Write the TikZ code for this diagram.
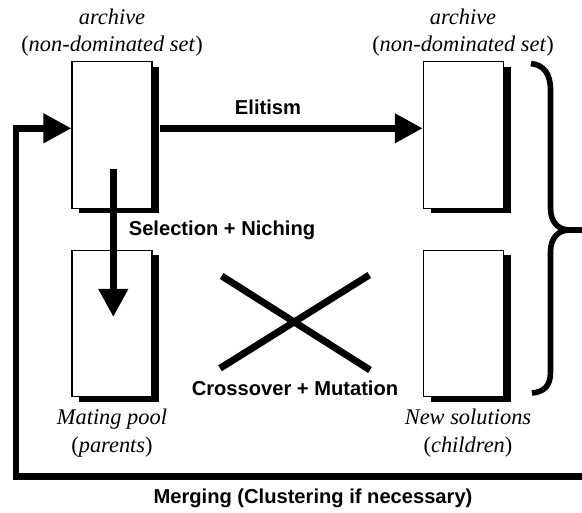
\documentclass[tikz,border=0pt]{standalone}
\usepackage{fontspec}
\setmainfont{Liberation Serif}
\setsansfont{Liberation Sans}
\usetikzlibrary{arrows.meta,shadows}
\begin{document}
\begin{tikzpicture}[x=0.75pt,y=-0.75pt,
  popbox/.style={draw=black,line width=0.8pt,fill=white,minimum width=60pt,minimum height=110pt,inner sep=0pt,
    drop shadow={shadow xshift=5.6pt,shadow yshift=-3.75pt,fill=black,opacity=1}},
  thick line/.style={line width=5.2pt},
  bigarrow/.style={thick line,-{Triangle[length=21pt,width=21pt]}},
  itlabel/.style={font=\fontsize{16.8}{20.5}\selectfont,align=center,inner sep=0pt},
  oplabel/.style={font=\sffamily\bfseries\fontsize{15.1}{17}\selectfont,inner sep=0pt}]
\useasboundingbox (0,0) rectangle (582,513);
% boxes
\node[popbox] (arcA) at (112,135) {};
\node[popbox] (arcB) at (463.3,135) {};
\node[popbox] (pool) at (112,323.5) {};
\node[popbox] (kids) at (463.3,323.5) {};
% labels
\node[itlabel] (tA) at (112,32.5) {\textit{archive}\\(\textit{non-dominated set})};
\node[itlabel] (tB) at (463,32.5) {\textit{archive}\\(\textit{non-dominated set})};
\node[itlabel] (tP) at (112,433) {\textit{Mating pool}\\(\textit{parents})};
\node[itlabel] (tK) at (468,433) {\textit{New solutions}\\(\textit{children})};
\node[oplabel] (lE) at (268,107) {Elitism};
\node[oplabel] (lS) at (222,230) {Selection + Niching};
\node[oplabel] (lC) at (295,388) {Crossover + Mutation};
\node[oplabel] (lM) at (313,498) {Merging (Clustering if necessary)};
% elitism arrow
\coordinate (eS) at (159.5,128.3);
\draw[bigarrow] (eS) -- (arcB.west |- eS);
% selection arrow
\coordinate (sS) at (113.3,169);
\coordinate (sE) at (113.3,317);
\draw[bigarrow] (sS) -- (sE);
% crossover X
\coordinate (x1) at (221.7,276);
\coordinate (x2) at (370,370);
\coordinate (x3) at (220,368.3);
\coordinate (x4) at (369.3,275);
\draw[thick line] (x1) -- (x2);
\draw[thick line] (x3) -- (x4);
% merging loop
\coordinate (mR) at (582,476.7);
\coordinate (mL) at (16,476.7);
\coordinate (mU) at (16,128.3);
\draw[bigarrow] (mR) -- (mL) -- (mU) -- (arcA.west |- mU);
% brace
\coordinate (bT) at (531,63.5);
\coordinate (bB) at (532,393);
\coordinate (bX) at (582,230);
\draw[line width=4.2pt]
  (bT) .. controls (544,65) and (550.5,74) .. (550.5,90)
  -- (550.5,208) .. controls (550.5,222) and (558,230) .. (570,230) -- (bX);
\draw[line width=4.2pt]
  (bX) -- (570,230) .. controls (558,230) and (550.5,238) .. (550.5,252)
  -- (550.5,372) .. controls (550.5,386) and (544,392) .. (bB);
\end{tikzpicture}
\end{document}
